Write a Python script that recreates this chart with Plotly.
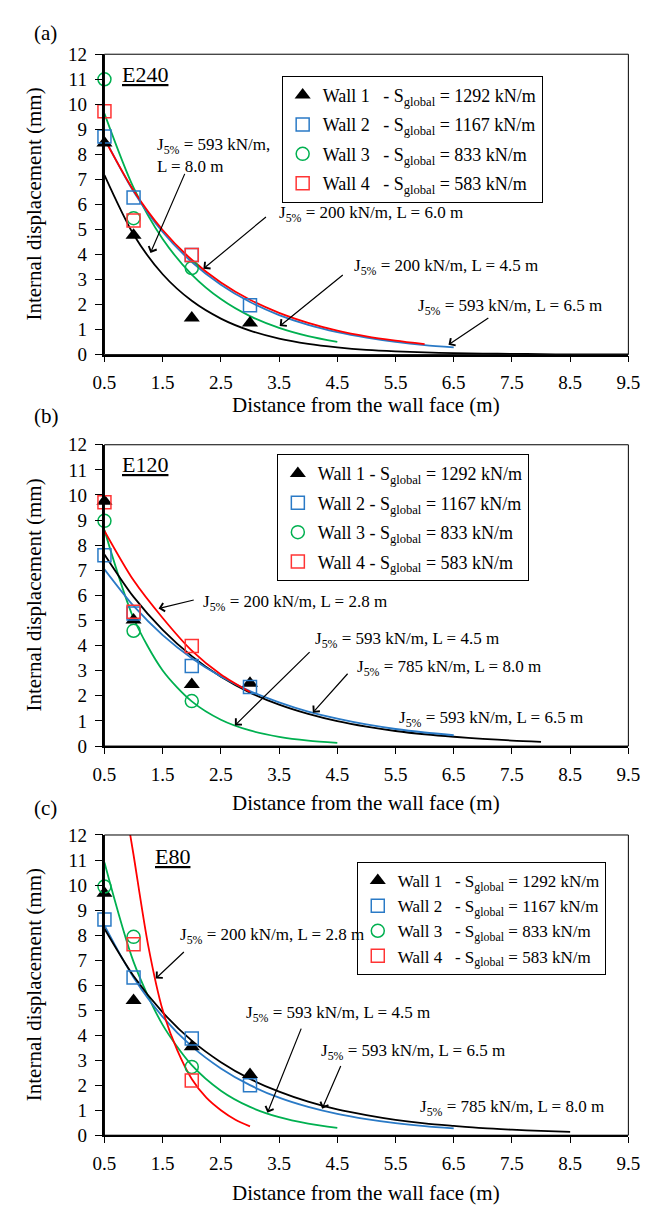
import plotly.graph_objects as go

# ---------------- data ----------------
x_ticks = [0.5, 1.5, 2.5, 3.5, 4.5, 5.5, 6.5, 7.5, 8.5, 9.5]
x_tick_labels = ["0.5", "1.5", "2.5", "3.5", "4.5", "5.5", "6.5", "7.5", "8.5", "9.5"]
y_ticks = [0, 1, 2, 3, 4, 5, 6, 7, 8, 9, 10, 11, 12]

walls = ["Wall 1", "Wall 2", "Wall 3", "Wall 4"]
s_global = [1292, 1167, 833, 583]
panel_tags = ["(a)", "(b)", "(c)"]
panel_names = ["E240", "E120", "E80"]

# measured points (distance m, displacement mm)
a_w1_x = [0.5, 1, 2, 3];  a_w1_y = [8.45, 4.77, 1.46, 1.26]
a_w2_x = [0.5, 1, 2, 3];  a_w2_y = [8.71, 6.28, 3.98, 1.97]
a_w3_x = [0.5, 1, 2];     a_w3_y = [11.0, 5.45, 3.46]
a_w4_x = [0.5, 1, 2];     a_w4_y = [9.72, 5.36, 3.98]

b_w1_x = [0.5, 1, 2, 3];  b_w1_y = [9.75, 5.02, 2.45, 2.50]
b_w2_x = [0.5, 1, 2, 3];  b_w2_y = [7.60, 5.28, 3.19, 2.35]
b_w3_x = [0.5, 1, 2];     b_w3_y = [8.97, 4.59, 1.79]
b_w4_x = [0.5, 1, 2];     b_w4_y = [9.71, 5.35, 3.98]

c_w1_x = [0.5, 1, 2, 3];  c_w1_y = [9.67, 5.38, 3.54, 2.43]
c_w2_x = [0.5, 1, 2, 3];  c_w2_y = [8.62, 6.30, 3.87, 2.00]
c_w3_x = [0.5, 1, 2];     c_w3_y = [9.94, 7.93, 2.73]
c_w4_x = [1, 2];          c_w4_y = [7.63, 2.19]

# model curves
a_black_x = [0.5, 1, 1.5, 2, 2.5, 3, 3.5, 4, 4.5, 5, 5.5, 6, 6.5, 7, 7.5, 8, 8.5, 9, 9.5]
a_black_y = [7.17, 4.80, 3.21, 2.15, 1.44, 0.96, 0.64, 0.43, 0.29, 0.19, 0.13, 0.09, 0.06, 0.04, 0.03, 0.02, 0.01, 0.01, 0.01]
a_blue_x = [0.5, 1, 1.5, 2, 2.5, 3, 3.5, 4, 4.5, 5, 5.5, 6, 6.5]
a_blue_y = [8.65, 6.52, 4.90, 3.70, 2.79, 2.10, 1.58, 1.19, 0.90, 0.68, 0.51, 0.38, 0.29]
a_red_x = [0.5, 1, 1.5, 2, 2.5, 3, 3.5, 4, 4.5, 5, 5.5, 6]
a_red_y = [8.62, 6.56, 4.98, 3.79, 2.88, 2.19, 1.67, 1.27, 0.96, 0.73, 0.56, 0.42]
a_green_x = [0.5, 1, 1.5, 2, 2.5, 3, 3.5, 4, 4.5]
a_green_y = [9.63, 6.67, 4.62, 3.20, 2.22, 1.54, 1.07, 0.74, 0.51]

b_black_x = [0.5, 1, 1.5, 2, 2.5, 3, 3.5, 4, 4.5, 5, 5.5, 6, 6.5, 7, 7.5, 8]
b_black_y = [7.63, 5.94, 4.63, 3.58, 2.76, 2.13, 1.65, 1.28, 0.99, 0.77, 0.60, 0.47, 0.37, 0.29, 0.22, 0.17]
b_blue_x = [0.5, 1, 1.5, 2, 2.5, 3, 3.5, 4, 4.5, 5, 5.5, 6, 6.5]
b_blue_y = [7.04, 5.58, 4.42, 3.50, 2.77, 2.19, 1.74, 1.37, 1.09, 0.86, 0.68, 0.54, 0.43]
b_red_x = [0.5, 1, 1.5, 2, 2.5, 3]
b_red_y = [8.57, 6.60, 5.10, 3.80, 2.85, 2.15]
b_green_x = [0.5, 1, 1.5, 2, 2.5, 3, 3.5, 4, 4.5]
b_green_y = [8.60, 5.09, 3.01, 1.78, 1.05, 0.62, 0.37, 0.22, 0.13]

c_black_x = [0.5, 1, 1.5, 2, 2.5, 3, 3.5, 4, 4.5, 5, 5.5, 6, 6.5, 7, 7.5, 8, 8.5]
c_black_y = [8.25, 6.36, 4.91, 3.78, 2.92, 2.25, 1.74, 1.34, 1.03, 0.80, 0.61, 0.47, 0.37, 0.28, 0.22, 0.17, 0.13]
c_blue_x = [0.5, 1, 1.5, 2, 2.5, 3, 3.5, 4, 4.5, 5, 5.5, 6, 6.5]
c_blue_y = [8.39, 6.30, 4.73, 3.55, 2.67, 2.00, 1.50, 1.13, 0.85, 0.64, 0.48, 0.36, 0.27]
c_red_x = [0.9, 1.0, 1.25, 1.5, 1.75, 2.0, 2.25, 2.5, 2.75, 3.0]
c_red_y = [12.6, 11.2, 7.6, 5.0, 3.4, 2.25, 1.5, 1.0, 0.62, 0.35]
c_green_x = [0.5, 1, 1.5, 2, 2.5, 3, 3.5, 4, 4.5]
c_green_y = [10.90, 6.93, 4.41, 2.80, 1.78, 1.13, 0.72, 0.46, 0.29]

# curve labels: (J5%, L, text x, text y, arrow tip x, tip y, tail x, tail y)
a_labels = [("593", "8.0", 1.36, 7.95, 1.29, 4.06, 1.89, 7.28),
            ("200", "6.0", 3.46, 5.63, 2.20, 3.43, 3.30, 5.55),
            ("200", "4.5", 4.76, 3.50, 3.51, 1.14, 4.62, 3.23),
            ("593", "6.5", 5.85, 1.89, 6.41, 0.39, 7.12, 1.50)]
b_labels = [("200", "2.8", 2.16, 5.71, 1.43, 5.48, 2.06, 5.83),
            ("593", "4.5", 4.08, 4.23, 2.74, 0.82, 4.05, 3.80),
            ("785", "8.0", 4.80, 3.09, 4.08, 1.33, 4.70, 2.94),
            ("593", "6.5", 5.53, 1.06, None, None, None, None)]
c_labels = [("200", "2.8", 1.77, 7.97, 1.38, 6.26, 1.89, 7.38),
            ("593", "4.5", 2.90, 4.83, 3.30, 0.90, 3.89, 4.32),
            ("593", "6.5", 4.19, 3.34, 4.24, 1.06, 4.57, 2.83),
            ("785", "8.0", 5.88, 1.10, None, None, None, None)]

# ---------------- styling ----------------
FONT = '"Liberation Serif", "Times New Roman", Times, serif'
BLACK = "#000000"
BLUE = "#2A7AC6"
GREEN = "#00B050"
RED = "#FF0000"
RED_M = "#FF3434"

W, H = 650, 1215
XDOM = [96 / W, 640 / W]
YDOMS = [[1 - 350.7 / H, 1 - 45 / H],
         [1 - 749 / H, 1 - 442.4 / H],
         [1 - 1145 / H, 1 - 839.5 / H]]

fig = go.Figure()

panels = [
    dict(curves=[(a_black_x, a_black_y, BLACK), (a_green_x, a_green_y, GREEN),
                 (a_blue_x, a_blue_y, BLUE), (a_red_x, a_red_y, RED)],
         pts=[(a_w1_x, a_w1_y), (a_w2_x, a_w2_y), (a_w3_x, a_w3_y), (a_w4_x, a_w4_y)],
         labels=a_labels, sep="\u00a0\u00a0\u00a0", name_pos=(0.76, 11.2),
         legend_pos=(280, 67), gap=3, lfont=18),
    dict(curves=[(b_green_x, b_green_y, GREEN), (b_black_x, b_black_y, BLACK),
                 (b_blue_x, b_blue_y, BLUE), (b_red_x, b_red_y, RED)],
         pts=[(b_w1_x, b_w1_y), (b_w2_x, b_w2_y), (b_w3_x, b_w3_y), (b_w4_x, b_w4_y)],
         labels=b_labels, sep=" ", name_pos=(0.76, 11.23),
         legend_pos=(275, 452), gap=3, lfont=18),
    dict(curves=[(c_green_x, c_green_y, GREEN), (c_blue_x, c_blue_y, BLUE),
                 (c_black_x, c_black_y, BLACK), (c_red_x, c_red_y, RED)],
         pts=[(c_w1_x, c_w1_y), (c_w2_x, c_w2_y), (c_w3_x, c_w3_y), (c_w4_x, c_w4_y)],
         labels=c_labels, sep="\u00a0\u00a0\u00a0", name_pos=(1.34, 11.15),
         legend_pos=(358, 867), gap=0, lfont=17),
]

marker_styles = [
    dict(symbol="triangle-up", color=BLACK, size=14, line=dict(width=0)),
    dict(symbol="square-open", color=BLUE, size=13, line=dict(width=1.5, color=BLUE)),
    dict(symbol="circle-open", color=GREEN, size=13, line=dict(width=1.5, color=GREEN)),
    dict(symbol="square-open", color=RED_M, size=13, line=dict(width=1.5, color=RED_M)),
]

annotations = []
shapes = []
layout = {}

for i, p in enumerate(panels):
    sfx = "" if i == 0 else str(i + 1)
    xa, ya = "x" + sfx, "y" + sfx
    leg = "legend" + sfx

    for cx, cy, col in p["curves"]:
        fig.add_trace(go.Scatter(x=cx, y=cy, mode="lines", xaxis=xa, yaxis=ya,
                                 line=dict(color=col, width=1.8, shape="spline", smoothing=0.8),
                                 showlegend=False, hoverinfo="skip"))
    for k, (px, py) in enumerate(p["pts"]):
        name = walls[k] + p["sep"] + "- S<sub>global</sub> = %d kN/m" % s_global[k]
        fig.add_trace(go.Scatter(x=px, y=py, mode="markers", xaxis=xa, yaxis=ya,
                                 marker=marker_styles[k], name=name, legend=leg,
                                 legendgroup="g%d%d" % (i, k), cliponaxis=False))

    layout["xaxis" + sfx] = dict(
        domain=XDOM, range=[0.5, 9.5], anchor=ya, tickvals=x_ticks, ticktext=x_tick_labels,
        showline=True, linecolor="black", linewidth=1.5, ticks="outside", ticklen=6,
        tickcolor="black", showgrid=False, zeroline=False, ticklabelstandoff=4,
        ticklabeloverflow="allow",
        tickfont=dict(family=FONT, size=19, color="black"))
    layout["yaxis" + sfx] = dict(
        domain=YDOMS[i], range=[0, 12], anchor=xa, tickvals=y_ticks,
        showline=True, linecolor="black", linewidth=1.5, ticks="outside", ticklen=8,
        tickcolor="black", showgrid=False, zeroline=False, ticklabelstandoff=4,
        ticklabeloverflow="allow",
        tickfont=dict(family=FONT, size=19, color="black"))

    lx, ly = p["legend_pos"]
    layout[leg] = dict(x=lx / W, y=1 - ly / H, xanchor="left", yanchor="top",
                       bgcolor="white", bordercolor="black", borderwidth=1,
                       font=dict(family=FONT, size=p["lfont"], color="black"),
                       traceorder="grouped", tracegroupgap=p["gap"], itemwidth=30)

    shapes.append(dict(type="rect", xref=xa + " domain", yref=ya + " domain",
                       x0=0, x1=1, y0=0, y1=1, line=dict(color="black", width=1)))

    annotations.append(dict(x=p["name_pos"][0], y=p["name_pos"][1], xref=xa, yref=ya,
                            text="<u>%s</u>" % panel_names[i], showarrow=False,
                            xanchor="left", yanchor="middle",
                            font=dict(family=FONT, size=22, color="black")))

    for (J, L, tx, ty, hx, hy, sx, sy) in p["labels"]:
        if i == 0 and J == "593" and L == "8.0":
            txt = "J<sub>5%</sub> = " + J + " kN/m,<br>L = " + L + " m"
        else:
            txt = "J<sub>5%</sub> = " + J + " kN/m, L = " + L + " m"
        annotations.append(dict(x=tx, y=ty, xref=xa, yref=ya, text=txt, showarrow=False,
                                xanchor="left", yanchor="middle", align="left",
                                font=dict(family=FONT, size=17, color="black")))
        if hx is not None:
            annotations.append(dict(x=hx, y=hy, ax=sx, ay=sy, xref=xa, yref=ya,
                                    axref=xa, ayref=ya, text="", showarrow=True,
                                    arrowhead=4, arrowsize=1.4, arrowwidth=1.2,
                                    arrowcolor="black"))

    ymid = (YDOMS[i][0] + YDOMS[i][1]) / 2
    annotations.append(dict(x=23 / W, y=ymid, xref="paper", yref="paper",
                            text="Internal displacement (mm)", textangle=-90,
                            showarrow=False, xanchor="center", yanchor="middle",
                            font=dict(family=FONT, size=21, color="black")))

tag_y = [23, 413, 812]
title_y = [402, 807, 1204]
for i in range(3):
    annotations.append(dict(x=21 / W, y=1 - tag_y[i] / H, xref="paper", yref="paper",
                            text=panel_tags[i], showarrow=False, xanchor="left",
                            yanchor="middle", font=dict(family=FONT, size=21, color="black")))
    annotations.append(dict(x=368 / W, y=1 - title_y[i] / H, xref="paper", yref="paper",
                            text="Distance from the wall face (m)", showarrow=False,
                            xanchor="center", yanchor="middle",
                            font=dict(family=FONT, size=21, color="black")))

fig.update_layout(width=W, height=H, margin=dict(l=0, r=0, t=0, b=0),
                  paper_bgcolor="white", plot_bgcolor="white",
                  annotations=annotations, shapes=shapes, hovermode=False,
                  font=dict(family=FONT, color="black"), **layout)

fig.write_html("out.html", config={"displayModeBar": False},
               post_script="document.body.style.margin='0px';document.body.style.overflow='hidden';")
